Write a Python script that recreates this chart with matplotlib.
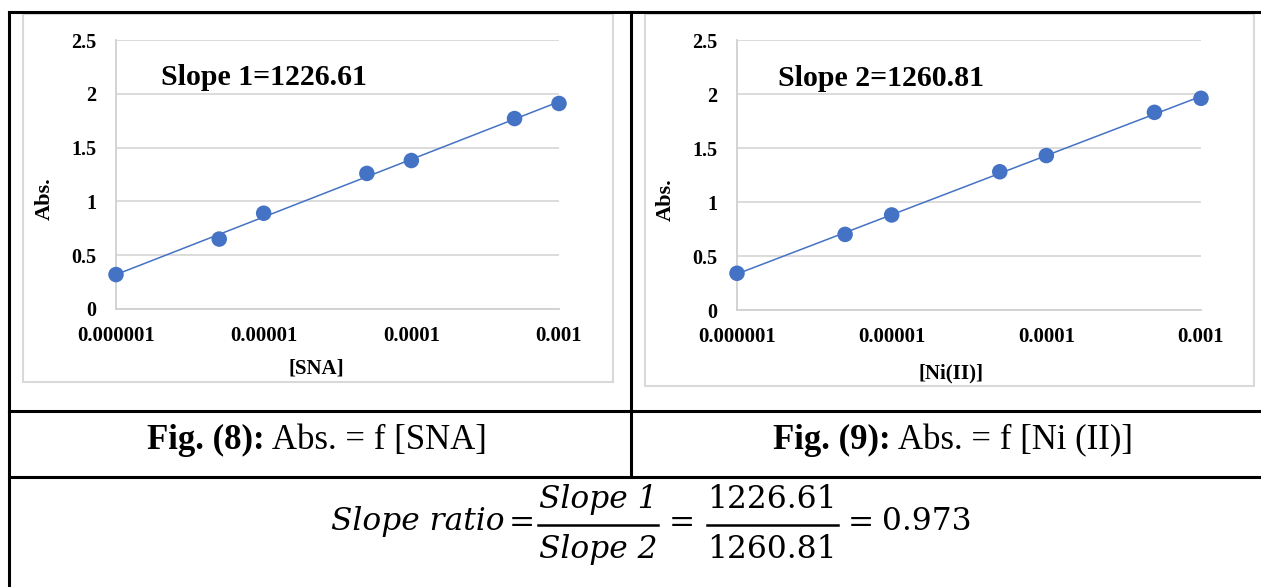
import numpy as np
import matplotlib
matplotlib.use("Agg")
import matplotlib.pyplot as plt
from matplotlib.lines import Line2D
from matplotlib.patches import Rectangle

# ---- data ----
conc = [1e-6, 5e-6, 1e-5, 5e-5, 1e-4, 5e-4, 1e-3]
abs_sna = [0.32, 0.65, 0.89, 1.26, 1.38, 1.77, 1.91]
abs_ni = [0.34, 0.70, 0.88, 1.28, 1.43, 1.83, 1.96]
x_ticks = [1e-6, 1e-5, 1e-4, 1e-3]
x_ticklabels = ["0.000001", "0.00001", "0.0001", "0.001"]
y_ticks = [0, 0.5, 1, 1.5, 2, 2.5]
y_ticklabels = ["0", "0.5", "1", "1.5", "2", "2.5"]
slope_labels = ["Slope 1=1226.61", "Slope 2=1260.81"]
x_labels = ["[SNA]", "[Ni(II)]"]
caption_bold = ["Fig. (8):", "Fig. (9):"]
caption_rest = [" Abs. = f [SNA]", " Abs. = f [Ni (II)]"]

W, H = 1261, 587
fig = plt.figure(figsize=(W / 100, H / 100), dpi=100)
fig.patch.set_facecolor("white")

def fx(px):
    return px / W

def fy(py):
    return 1 - py / H

serif = "Liberation Serif"
blue = "#4472C4"

# table lines
lw = 2.2
fig.add_artist(Line2D([fx(9), fx(1261)], [fy(12), fy(12)], color="black", lw=lw))
fig.add_artist(Line2D([fx(9), fx(9)], [fy(12), fy(586)], color="black", lw=lw))
fig.add_artist(Line2D([fx(631), fx(631)], [fy(12), fy(477)], color="black", lw=lw))
fig.add_artist(Line2D([fx(9), fx(1261)], [fy(411), fy(411)], color="black", lw=lw))
fig.add_artist(Line2D([fx(9), fx(1261)], [fy(477), fy(477)], color="black", lw=lw))

# chart frames
for (x0, y0, x1, y1) in [(23, 14, 613, 382), (645, 14, 1254, 386)]:
    fig.add_artist(Rectangle((fx(x0), fy(y1)), fx(x1) - fx(x0), fy(y0) - fy(y1),
                             fill=False, edgecolor="#d9d9d9", lw=1.5))

axes_px = [(116, 559, 40, 309), (737, 1201, 40, 310)]
datasets = [abs_sna, abs_ni]
slope_pos = [(161, 85), (778, 86)]
xlabel_pos = [(316, 368), (951, 373)]
ylabel_pos = [(45, 199), (666, 200)]

for i, (l, r, t, b) in enumerate(axes_px):
    ax = fig.add_axes([fx(l), fy(b), fx(r) - fx(l), fy(t) - fy(b)])
    ax.set_xscale("log")
    ax.set_xlim(1e-6, 1e-3)
    ax.set_ylim(0, 2.5)
    y = np.array(datasets[i])
    lx = np.log10(conc)
    m, c = np.polyfit(lx, y, 1)
    xl = np.array([1e-6, 1e-3])
    ax.plot(xl, m * np.log10(xl) + c, color=blue, lw=1.1, zorder=3)
    ax.scatter(conc, y, s=125, color=blue, zorder=4, clip_on=False, edgecolors="none")
    ax.set_yticks(y_ticks)
    ax.set_yticklabels(y_ticklabels, fontfamily=serif, fontweight="bold", fontsize=14.5)
    ax.set_xticks(x_ticks)
    ax.set_xticklabels(x_ticklabels, fontfamily=serif, fontweight="bold", fontsize=15)
    ax.xaxis.set_minor_locator(matplotlib.ticker.NullLocator())
    ax.tick_params(axis="both", length=0)
    ax.tick_params(axis="y", pad=14)
    ax.tick_params(axis="x", pad=12)
    ax.grid(axis="y", color="#d9d9d9", lw=1.3)
    ax.set_axisbelow(True)
    for s in ["top", "right"]:
        ax.spines[s].set_visible(False)
    for s in ["left", "bottom"]:
        ax.spines[s].set_color("#d0d0d0")
        ax.spines[s].set_linewidth(1.3)
    fig.text(fx(slope_pos[i][0]), fy(slope_pos[i][1]), slope_labels[i], fontfamily=serif,
             fontweight="bold", fontsize=21.5, ha="left", va="baseline")
    fig.text(fx(xlabel_pos[i][0]), fy(xlabel_pos[i][1]), x_labels[i], fontfamily=serif,
             fontweight="bold", fontsize=15, ha="center", va="center")
    fig.text(fx(ylabel_pos[i][0]), fy(ylabel_pos[i][1]), "Abs.", fontfamily=serif,
             fontweight="bold", fontsize=16, ha="center", va="center", rotation=90)

# captions
cap_centers = [317, 953]
renderer = fig.canvas.get_renderer()
for i in range(2):
    t1 = fig.text(0, fy(449), caption_bold[i], fontfamily=serif, fontweight="bold",
                  fontsize=25, ha="left", va="baseline")
    t2 = fig.text(0, fy(449), caption_rest[i], fontfamily=serif, fontsize=25,
                  ha="left", va="baseline")
    w1 = t1.get_window_extent(renderer).width
    w2 = t2.get_window_extent(renderer).width
    x0 = cap_centers[i] - (w1 + w2) / 2
    t1.set_x(fx(x0))
    t2.set_x(fx(x0 + w1))

# formula
ffam = "DejaVu Serif"
fs = 22.5
fig.text(fx(505), fy(530), "Slope ratio", fontfamily=ffam, style="italic", fontsize=fs,
         ha="right", va="baseline")
fig.text(fx(522), fy(523), "=", fontfamily=ffam, fontsize=fs, ha="center", va="center")
fig.text(fx(598), fy(508), "Slope 1", fontfamily=ffam, style="italic", fontsize=fs,
         ha="center", va="baseline")
fig.text(fx(598), fy(558), "Slope 2", fontfamily=ffam, style="italic", fontsize=fs,
         ha="center", va="baseline")
fig.add_artist(Line2D([fx(538), fx(658)], [fy(525), fy(525)], color="black", lw=1.8))
fig.text(fx(682), fy(523), "=", fontfamily=ffam, fontsize=fs, ha="center", va="center")
fig.text(fx(772), fy(508), "1226.61", fontfamily=ffam, fontsize=fs, ha="center", va="baseline")
fig.text(fx(772), fy(558), "1260.81", fontfamily=ffam, fontsize=fs, ha="center", va="baseline")
fig.add_artist(Line2D([fx(707), fx(838)], [fy(525), fy(525)], color="black", lw=1.8))
fig.text(fx(861), fy(523), "=", fontfamily=ffam, fontsize=fs, ha="center", va="center")
fig.text(fx(927), fy(530), "0.973", fontfamily=ffam, fontsize=fs, ha="center", va="baseline")

fig.savefig("out.png", dpi=100)
